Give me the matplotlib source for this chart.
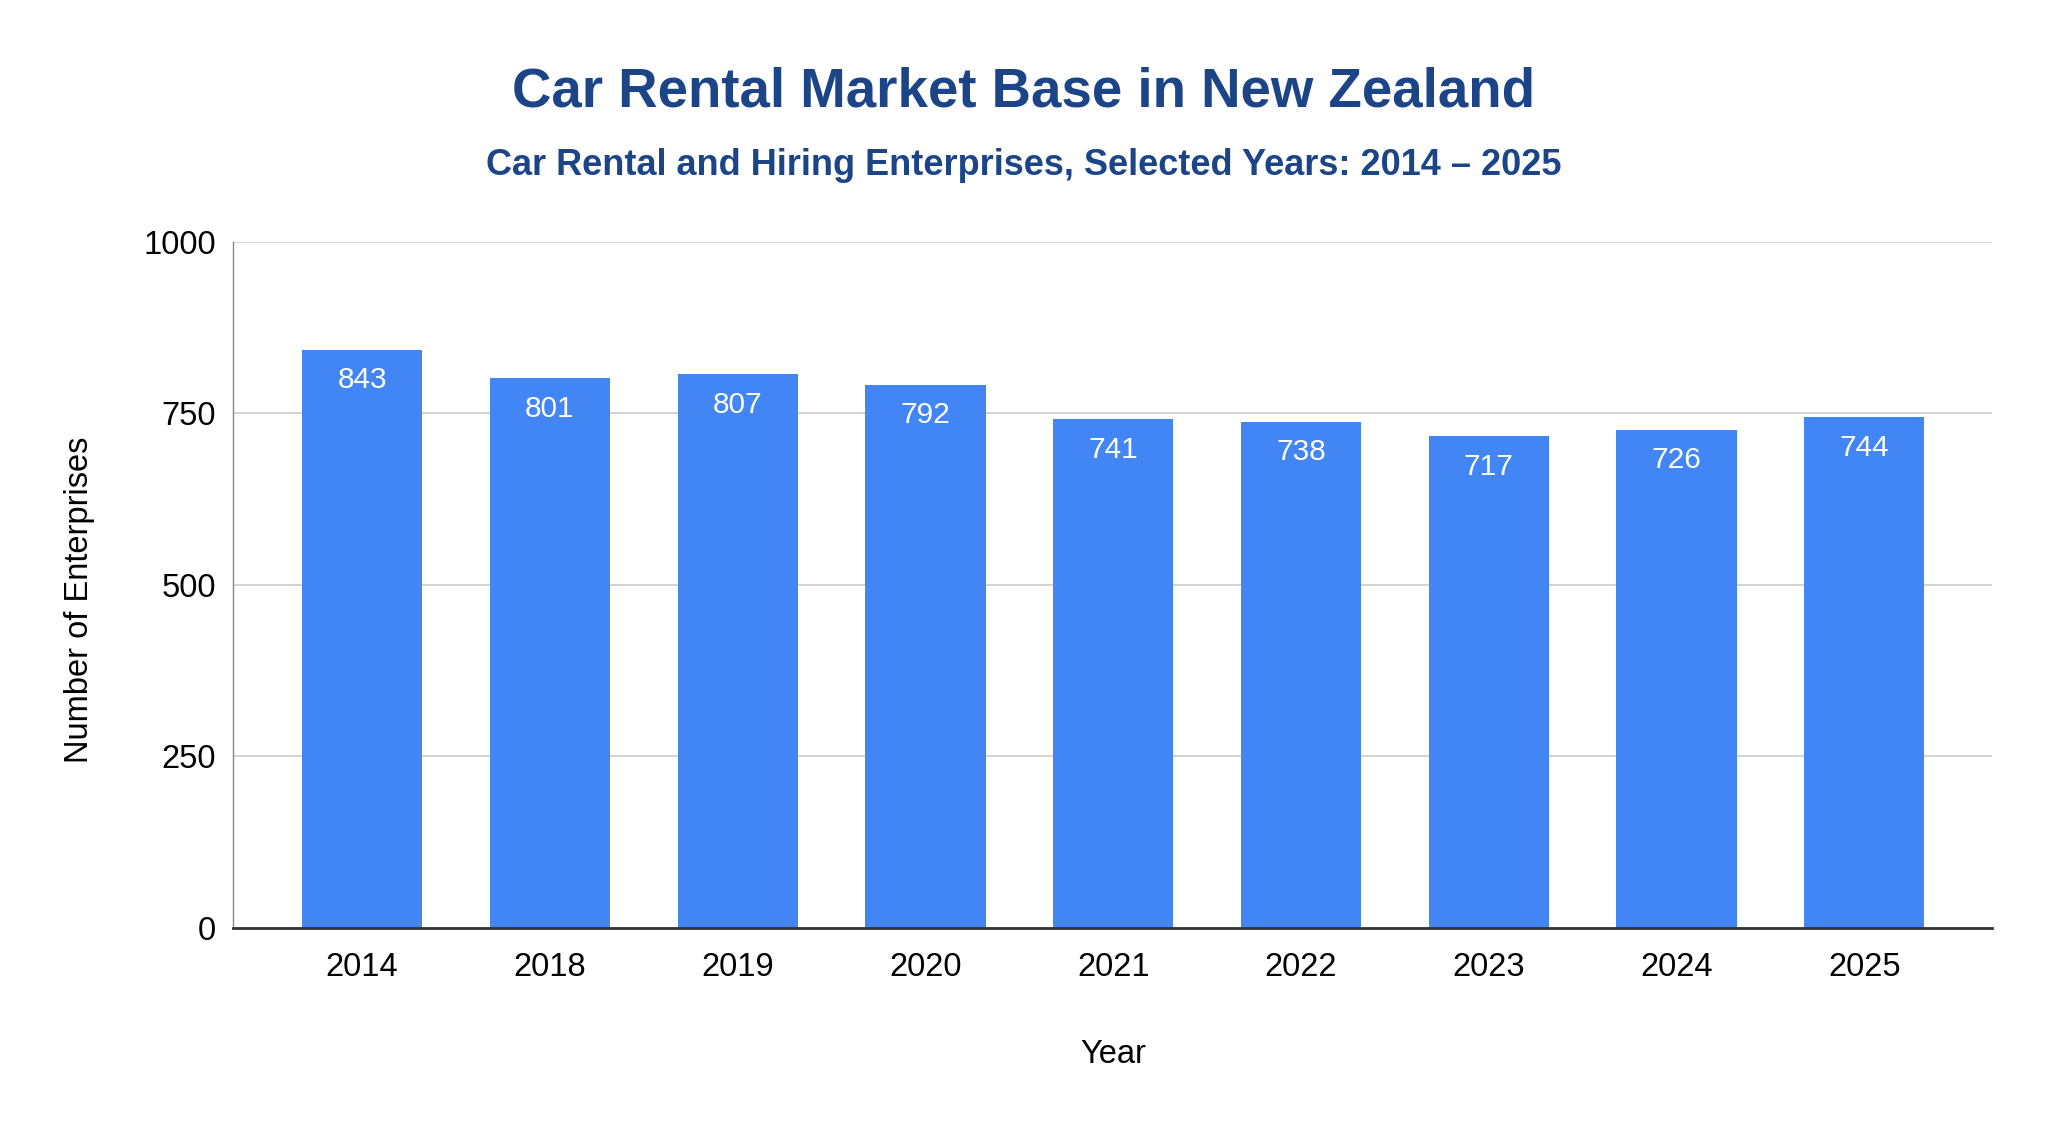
import matplotlib.pyplot as plt

YEARS = ["2014", "2018", "2019", "2020", "2021", "2022", "2023", "2024", "2025"]
ENTERPRISES = [843, 801, 807, 792, 741, 738, 717, 726, 744]
Y_TICKS = [0, 250, 500, 750, 1000]

TITLE = "Car Rental Market Base in New Zealand"
SUBTITLE = "Car Rental and Hiring Enterprises, Selected Years: 2014 \u2013 2025"

plt.rcParams["font.family"] = ["Liberation Sans", "DejaVu Sans"]

fig = plt.figure(figsize=(20.48, 11.24), dpi=100)
ax = fig.add_axes([0.1136, 0.1744, 0.8590, 0.6105])

posiciones = range(len(YEARS))
barras = ax.bar(posiciones, ENTERPRISES, width=0.64, color="#4285F4", zorder=3)

# etiquetas blancas dentro de cada barra
for pos, valor in zip(posiciones, ENTERPRISES):
    ax.annotate(str(valor), (pos, valor), xytext=(0, -22), textcoords="offset points",
                ha="center", va="center", color="white", fontsize=21.5, zorder=4)

ax.set_xlim(-0.69, 8.68)
ax.set_ylim(0, 1000)
ax.set_yticks(Y_TICKS)
ax.set_xticks(list(posiciones))
ax.set_xticklabels(YEARS)
ax.tick_params(axis="both", length=0, labelsize=23.5, colors="black")
ax.tick_params(axis="y", pad=12)
ax.tick_params(axis="x", pad=17)
ax.grid(axis="y", color="#cccccc", linewidth=1.2, zorder=0)

for lado in ["top", "right"]:
    ax.spines[lado].set_visible(False)
ax.spines["left"].set_color("#888888")
ax.spines["left"].set_linewidth(1)
ax.spines["bottom"].set_color("#333333")
ax.spines["bottom"].set_linewidth(2)
ax.spines["bottom"].set_zorder(5)

fig.text(0.0386, 0.4665, "Number of Enterprises", rotation=90, ha="center", va="center", fontsize=23.5)
fig.text(0.5435, 0.062, "Year", ha="center", va="center", fontsize=23.5)

fig.text(0.5, 0.9175, TITLE, ha="center", va="center", fontsize=39.3, fontweight="bold", color="#1c4587")
fig.text(0.5, 0.853, SUBTITLE, ha="center", va="center", fontsize=26, fontweight="bold", color="#1c4587")

fig.savefig("out.png", dpi=100, facecolor="white")
